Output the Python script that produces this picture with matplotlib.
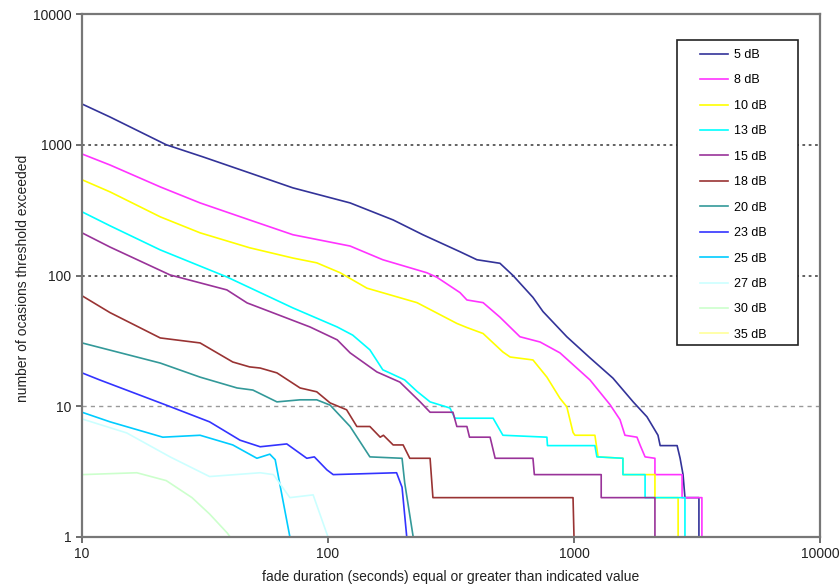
# Fade duration statistics: number of occasions each attenuation threshold
# was exceeded for at least a given duration (log-log, one line per level)

import matplotlib
matplotlib.use("Agg")
import matplotlib.pyplot as plt
from matplotlib.patches import Rectangle
from matplotlib.ticker import FixedLocator, FixedFormatter, NullLocator


# data
# ---

# fade duration (s) and number of occasions, per threshold
x_5 = [10, 13, 22, 31, 48, 72, 123, 184, 243, 344, 403, 500, 565, 681, 748,
       935, 1160, 1440, 1740, 1980, 2195, 2240, 2625, 2700, 2775, 2825, 3220, 3220]
y_5 = [2050, 1630, 1000, 808, 609, 468, 359, 266, 205, 152, 132, 124, 100, 68, 53,
       34, 23.5, 16.4, 10.8, 8.3, 6, 5, 5, 4, 3, 2, 2, 1]

x_8 = [10, 13, 20.8, 30.2, 48, 72, 123, 167, 252, 277, 344, 367, 427, 500, 603,
       728, 877, 1161, 1400, 1538, 1611, 1803, 1860, 1945, 2133, 2133, 2750, 2750,
       3311, 3311]
y_8 = [850, 700, 476, 359, 266, 205, 168, 132, 105, 97, 74, 65, 62, 48, 34,
       31, 25.6, 15.9, 10.3, 7.9, 6, 5.8, 5, 4.1, 4, 3, 3, 2,
       2, 1]

x_10 = [10, 13, 20.8, 30.2, 48, 72, 90, 112, 144, 230, 334, 367, 427, 514, 550,
        681, 776, 877, 935, 991, 1009, 1216, 1253, 1581, 1581, 2133, 2133, 2650, 2650]
y_10 = [540, 436, 281, 212, 163, 136, 125, 105, 80, 62, 43, 40, 36, 26, 23.8,
        22.6, 16.7, 11.5, 9.9, 6.3, 6, 6, 4.1, 4, 3, 3, 2, 2, 1]

x_13 = [10, 13, 20.8, 38.8, 72, 109, 126, 148, 167, 178, 205, 230, 260, 313, 328,
        469, 514, 776, 780, 1216, 1239, 1581, 1581, 1945, 1945, 2825, 2825]
y_13 = [307, 240, 157, 97.5, 56.5, 40.4, 35, 27, 19, 18, 15.9, 13, 10.8, 9.7, 8.1,
        8.1, 6, 5.8, 5, 5, 4.1, 4, 3, 3, 2, 2, 1]

x_15 = [10, 13, 22.8, 38.8, 46.9, 60, 84.5, 109, 123, 158, 196, 237, 260, 322, 334,
        367, 376, 456, 478, 681, 690, 1290, 1290, 2133, 2133]
y_15 = [212, 165, 101, 77.6, 61.7, 51.7, 40.4, 32.2, 25.6, 18.3, 15.3, 10.8, 9, 9, 7,
        7, 5.8, 5.8, 4, 4, 3, 3, 2, 2, 1]

x_18 = [10, 13, 20.8, 30.2, 41, 48, 53, 62, 77, 90, 102, 119, 131, 148, 163,
        168, 184, 202, 215, 260, 267, 991, 1000]
y_18 = [70, 52, 33.3, 30.5, 21.8, 20, 19.6, 18, 13.8, 12.9, 10.6, 9.4, 7, 7, 5.8,
        6, 5.06, 5.06, 4, 4, 2, 2, 1]

x_20 = [10, 20.8, 30.2, 42.7, 49.5, 62, 77, 90, 102, 123, 148, 200, 205, 222]
y_20 = [30.5, 21.4, 16.7, 13.8, 13.3, 10.8, 11.2, 11.2, 10.2, 7, 4.1, 4, 2.6, 1]

x_23 = [10, 11.8, 22, 33, 43.9, 53, 68, 82, 88, 99, 105, 190, 200, 209]
y_23 = [18, 15.9, 10.2, 7.6, 5.5, 4.9, 5.15, 4, 4.1, 3.26, 3, 3.1, 2.4, 1]

x_25 = [10, 13, 21.3, 30.2, 41, 51.4, 58, 61, 70]
y_25 = [9, 7.6, 5.8, 6, 5.06, 4, 4.3, 3.9, 1]

x_27 = [10, 15.2, 22.8, 33, 53, 60, 70, 87, 100]
y_27 = [8, 6.25, 4.1, 2.9, 3.1, 3, 2, 2.1, 1]

x_30 = [10, 16.7, 22, 28, 33, 39, 40]
y_30 = [3, 3.1, 2.7, 2, 1.5, 1.07, 1]

# 35 dB never reaches one occasion inside the plotted range
x_35 = []
y_35 = []

labels = ["5 dB", "8 dB", "10 dB", "13 dB", "15 dB", "18 dB",
          "20 dB", "23 dB", "25 dB", "27 dB", "30 dB", "35 dB"]
colours = ["#333399", "#ff33ff", "#ffff00", "#00ffff", "#993399", "#993333",
           "#339999", "#3333ff", "#00ccff", "#ccffff", "#ccffcc", "#ffff99"]

series = [(x_5, y_5), (x_8, y_8), (x_10, y_10), (x_13, y_13), (x_15, y_15),
          (x_18, y_18), (x_20, y_20), (x_23, y_23), (x_25, y_25), (x_27, y_27),
          (x_30, y_30), (x_35, y_35)]

decades = [1, 10, 100, 1000, 10000]
decade_labels = ["1", "10", "100", "1000", "10000"]


# plot
# ---

plt.rcParams["font.family"] = ["Liberation Sans", "DejaVu Sans"]

fig = plt.figure(figsize=(8.4, 5.87), dpi=100)
ax = fig.add_axes([82 / 840, 1 - 537 / 587, 738 / 840, 523 / 587])

# horizontal reference lines
ax.axhline(1000, color="#555555", lw=1.3, ls=(0, (1.5, 2.0)), zorder=1)
ax.axhline(100, color="#555555", lw=1.3, ls=(0, (1.5, 2.0)), zorder=1)
ax.axhline(10, color="#999999", lw=1.0, ls=(0, (3, 3)), zorder=1)

for (xs, ys), lab, col in zip(series, labels, colours):
    ax.plot(xs, ys, color=col, lw=1.2, label=lab, zorder=2)

ax.set_xscale("log")
ax.set_yscale("log")
ax.set_xlim(10, 10000)
ax.set_ylim(1, 10000)

ax.xaxis.set_major_locator(FixedLocator(decades[1:]))
ax.xaxis.set_major_formatter(FixedFormatter(decade_labels[1:]))
ax.yaxis.set_major_locator(FixedLocator(decades))
ax.yaxis.set_major_formatter(FixedFormatter(decade_labels))
ax.xaxis.set_minor_locator(NullLocator())
ax.yaxis.set_minor_locator(NullLocator())
ax.tick_params(axis="both", direction="out", length=4, width=1.2,
               color="#555555", labelsize=10, labelcolor="#222222")

for side in ["left", "bottom", "top", "right"]:
    ax.spines[side].set_color("#777777")
    ax.spines[side].set_linewidth(1.6)

ax.set_xlabel("fade duration (seconds) equal or greater than indicated value",
              fontsize=10, color="#222222")
ax.set_ylabel("number of ocasions threshold exceeded",
              fontsize=10, color="#222222")
ax.xaxis.set_label_coords(0.5, -0.063)
ax.yaxis.set_label_coords(-0.071, 0.495)

# legend box drawn separately so the entries can sit off-centre like the original
ax.add_patch(Rectangle((0.806, 0.367), 0.164, 0.583, transform=ax.transAxes,
                       facecolor="white", edgecolor="#222222", lw=1.2,
                       zorder=3))
leg = ax.legend(loc="upper left", bbox_to_anchor=(0.838, 0.933),
                fontsize=9, labelspacing=1.075, handlelength=2.2,
                handletextpad=0.45, borderpad=0, frameon=False,
                borderaxespad=0)
leg.set_zorder(5)

fig.savefig("out.png", dpi=100)
plt.close(fig)
